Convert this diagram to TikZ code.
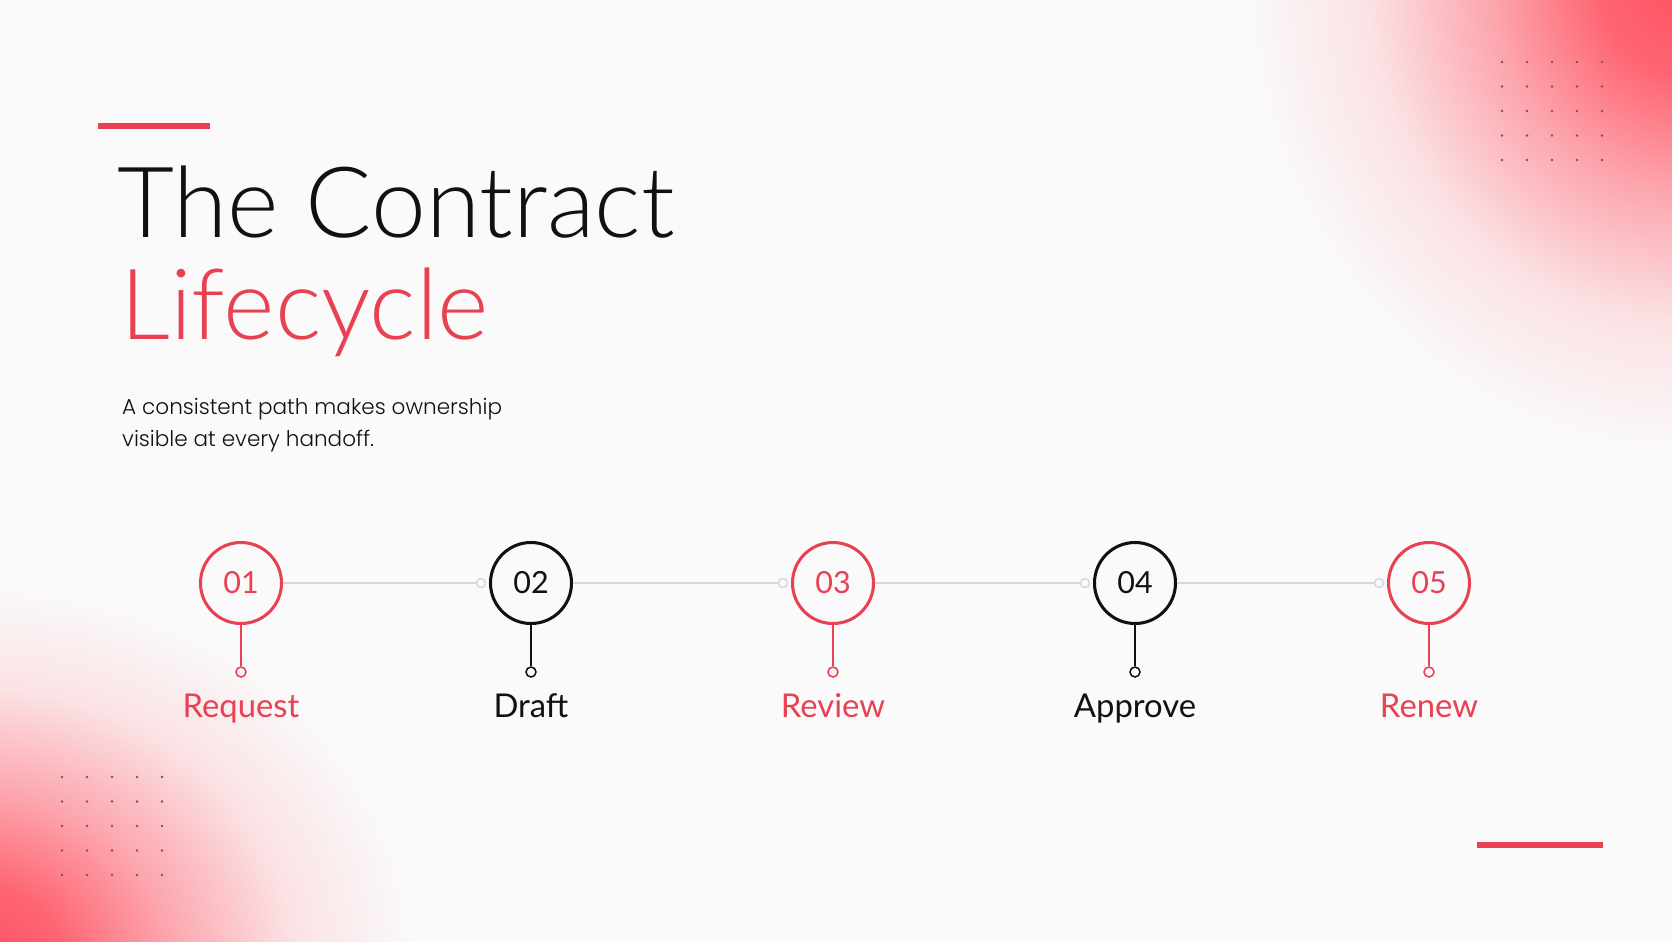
\documentclass[tikz,border=0pt]{standalone}
\usepackage{fontspec}
\setmainfont{Lato}
\newfontfamily\headfont{Lato Light}
\newfontfamily\bodyfont{Poppins Light}
\usetikzlibrary{positioning}

\definecolor{accent}{RGB}{232,65,82}
\definecolor{glowred}{RGB}{255,80,96}
\definecolor{ink}{RGB}{17,17,17}
\definecolor{paper}{RGB}{250,250,250}
\definecolor{rail}{RGB}{216,216,216}
\definecolor{dotc}{RGB}{150,70,88}
\pgfdeclareradialshading{glow}{\pgfpoint{0bp}{0bp}}{color(0bp)=(glowred); color(5bp)=(glowred!88!paper); color(11bp)=(glowred!50!paper); color(18bp)=(glowred!14!paper); color(25bp)=(paper); color(50bp)=(paper)}

\tikzset{
  stage/.style={circle, draw=#1, text=#1, line width=2.6pt, minimum size=2.43cm, inner sep=0pt, fill=paper, font=\fontsize{26}{26}\selectfont},
  knob/.style={circle, draw=#1, fill=paper, line width=1.3pt, minimum size=0.3cm, inner sep=0pt},
  stem/.style={#1, line width=1.3pt},
  stagelabel/.style={anchor=base, text=#1, inner sep=0pt, font=\fontsize{28}{28}\selectfont},
  bar/.style={accent, line width=4.8pt}
}

\begin{document}
\begin{tikzpicture}[x=0.03cm, y=-0.03cm]
\useasboundingbox (0,0) rectangle (1672,941);
\fill[paper] (0,0) rectangle (1672,941);
\begin{scope}
\clip (0,0) rectangle (1672,941);
\shade[shading=glow] (1690,-20) ellipse [x radius=450, y radius=480];
\shade[shading=glow] (-30,960) ellipse [x radius=450, y radius=380];
\end{scope}
% dot grids
\foreach \c in {0,...,4}
  \foreach \r in {0,...,4} {
    \fill[dotc] (1502+25*\c, 62+24.5*\r) circle (1.3);
    \fill[dotc] (62+25*\c, 777+24.5*\r) circle (1.3);
  }
\draw[bar] (98,126) -- (210,126);
\draw[bar] (1477,845) -- (1603,845);
% heading
\node[anchor=base west, inner sep=0pt, text=ink, font=\headfont\fontsize{84}{84}\selectfont] (title) at (117,237) {The Contract};
\node[anchor=base west, inner sep=0pt, text=accent, font=\headfont\fontsize{84}{84}\selectfont] (title2) at (120,339) {Lifecycle};
\node[anchor=base west, inner sep=0pt, text=ink, font=\bodyfont\fontsize{18.4}{18.4}\selectfont] (sub1) at (122,414) {A consistent path makes ownership};
\node[anchor=base west, inner sep=0pt, text=ink, font=\bodyfont\fontsize{18.4}{18.4}\selectfont] (sub2) at (122,446) {visible at every handoff.};
% stages
\foreach \x [count=\i from 2] in {531,833,1135,1429}
  \node[knob=rail, minimum size=0.27cm] (r\i) at (\x-50,583) {};
\foreach \num/\x/\lbl/\col [count=\i] in {01/241/Request/accent, 02/531/Draft/ink, 03/833/Review/accent, 04/1135/Approve/ink, 05/1429/Renew/accent} {
  \node[stage=\col] (s\i) at (\x,583) {\num};
  \node[knob=\col] (k\i) at (\x,672) {};
  \draw[stem=\col] (s\i) -- (k\i);
  \node[stagelabel=\col] (l\i) at (\x,717) {\lbl};
}
\foreach \i [count=\j from 2] in {1,...,4}
  \draw[rail, line width=1.3pt] (s\i) -- (r\j);
\end{tikzpicture}
\end{document}
